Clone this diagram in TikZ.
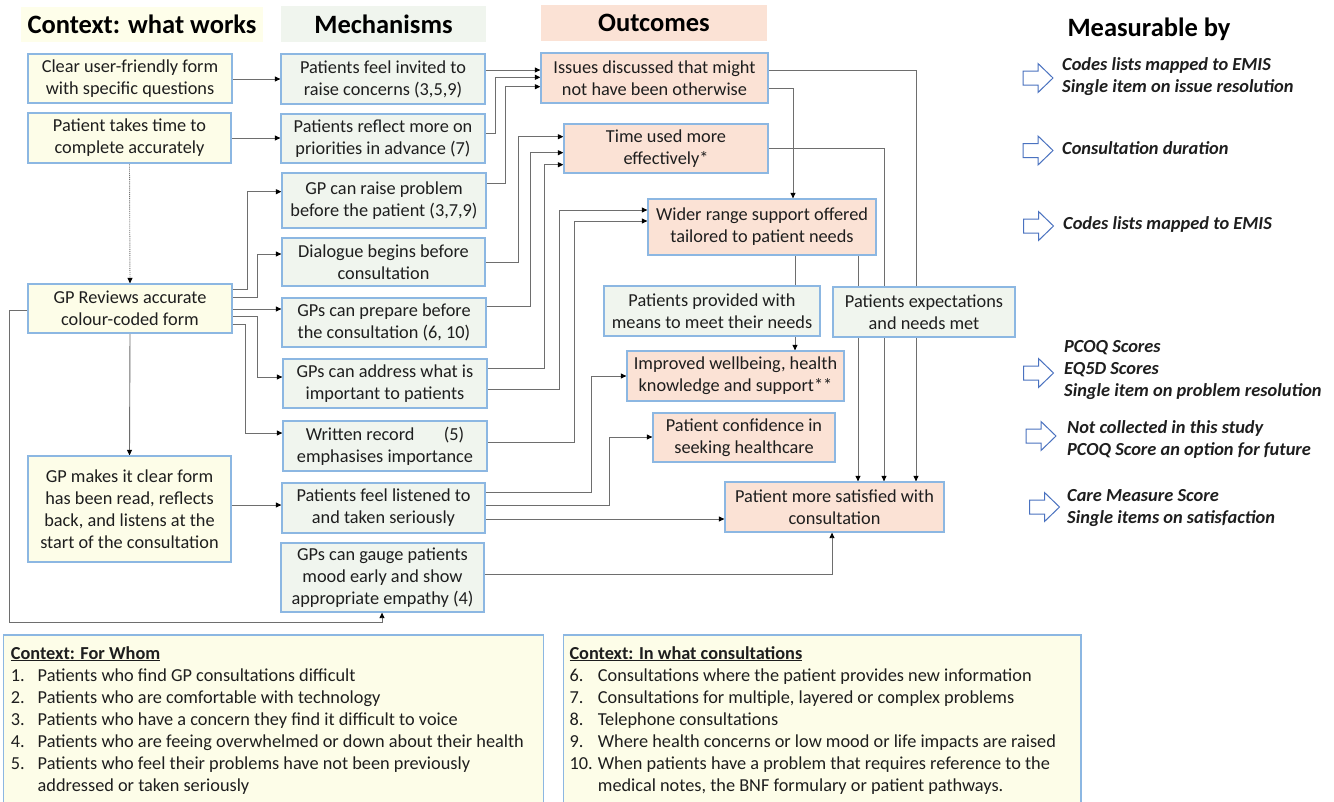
\documentclass[tikz,border=0pt]{standalone}
\usepackage{fontspec}
\setmainfont{Carlito}
\usetikzlibrary{arrows.meta}
\pgfdeclarelayer{back}
\pgfdeclarelayer{bg}
\pgfsetlayers{back,bg,main}
\definecolor{yel}{HTML}{FDFDE8}
\definecolor{yelh}{HTML}{FEFEEA}
\definecolor{grn}{HTML}{F0F5EE}
\definecolor{pch}{HTML}{FBE2D5}
\definecolor{bdr}{HTML}{8CB7E2}
\definecolor{ln}{HTML}{6E6E6E}
\definecolor{blk}{HTML}{4A72C0}
\definecolor{txt}{HTML}{1E1E1E}
\newcommand\mybox[7]{\node[box,fill=#2,minimum width={#5-#3},minimum height={#6-#4}] (#1) at ({(#3+#5)/2},{(#4+#6)/2}) {#7};}
\newcommand\hdr[7]{\node[hdrbox,fill=#2,minimum width={#5-#3},minimum height={#6-#4}] (#1) at ({(#3+#5)/2},{(#4+#6)/2}) {#7};}
\newcommand\blockarrow[2]{\draw[blk,line width=1pt,fill=white,line join=miter] (#1,#2-7) -- (#1+15,#2-7) -- (#1+15,#2-14.5) -- (#1+30,#2) -- (#1+15,#2+14.5) -- (#1+15,#2+7) -- (#1,#2+7) -- cycle;}
\begin{document}
\begin{tikzpicture}[x=1pt,y=-1pt,
  box/.style={draw=bdr,line width=1.3pt,align=center,inner sep=1pt,text=txt,font=\fontsize{18.3}{22}\selectfont},
  hdrbox/.style={draw=none,inner sep=0pt,text=black,font=\fontsize{26.5}{30}\selectfont\bfseries},
  conn/.style={draw=ln,line width=0.9pt,-{Triangle[length=5.5pt,width=5pt,color=black]}},
  meas/.style={anchor=west,align=left,inner sep=0pt,text=txt,font=\fontsize{18.4}{22}\selectfont\bfseries\itshape},
  lst/.style={anchor=base west,inner sep=0pt,text=txt,font=\fontsize{18.3}{22}\selectfont}]
\clip (0,0) rectangle (1334,801);
\begin{pgfonlayer}{back}
\fill[white] (0,0) rectangle (1334,801);
\end{pgfonlayer}
% headers
\hdr{h1}{yelh}{21}{7}{263}{42}{Context: what works}
\hdr{h2}{grn}{281}{6}{486}{42}{Mechanisms}
\hdr{h3}{pch}{541}{5}{767}{41}{Outcomes}
\node[hdrbox,anchor=base] (h4) at (1149,36) {Measurable by};
% context boxes
\mybox{C1}{yel}{28}{54}{232}{103}{Clear user-friendly form\\with specific questions}
\mybox{C2}{yel}{28}{113}{231}{163}{Patient takes time to\\complete accurately}
\mybox{C3}{yel}{28}{284}{232}{333}{GP Reviews accurate\\colour-coded form}
\mybox{C4}{yel}{28}{456}{231}{562}{GP makes it clear form\\has been read, reflects\\back, and listens at the\\start of the consultation}
% mechanisms
\mybox{M1}{grn}{281}{54}{485}{104}{Patients feel invited to\\raise concerns (3,5,9)}
\mybox{M2}{grn}{281}{114}{485}{163}{Patients reflect more on\\priorities in advance (7)}
\mybox{M3}{grn}{282}{173}{486}{228}{GP can raise problem\\before the patient (3,7,9)}
\mybox{M4}{grn}{282}{238}{485}{286}{Dialogue begins before\\consultation}
\mybox{M5}{grn}{282}{298}{486}{347}{GPs can prepare before\\the consultation (6, 10)}
\mybox{M6}{grn}{283}{359}{487}{408}{GPs can address what is\\important to patients}
\mybox{M7}{grn}{283}{421}{487}{471}{Written record\hspace{1.6em}(5)\\emphasises importance}
\mybox{M8}{grn}{282}{483}{485}{533}{Patients feel listened to\\and taken seriously}
\mybox{M9}{grn}{281}{543}{484}{612}{GPs can gauge patients\\mood early and show\\appropriate empathy (4)}
% outcomes
\mybox{O1}{pch}{541}{53}{768}{103}{Issues discussed that might\\not have been otherwise}
\mybox{O2}{pch}{564}{124}{768}{173}{Time used more\\effectively*}
\mybox{O3}{pch}{648}{199}{876}{255}{Wider range support offered\\tailored to patient needs}
\mybox{G1}{grn}{604}{286}{820}{336}{Patients provided with\\means to meet their needs}
\mybox{G2}{grn}{833}{287}{1015}{337}{Patients expectations\\and needs met}
\mybox{O4}{pch}{627}{351}{844}{401}{Improved wellbeing, health\\knowledge and support**}
\mybox{O5}{pch}{653}{413}{835}{462}{Patient confidence in\\seeking healthcare}
\mybox{O6}{pch}{725}{482}{944}{532}{Patient more satisfied with\\consultation}
% connectors
\begin{pgfonlayer}{bg}
\draw[conn] (C1.east |- 0,79) -- (M1.west |- 0,79);
\draw[conn] (C2.east |- 0,138) -- (M2.west |- 0,138);
\draw[conn,densely dotted] (C2.south) -- (C3.north);
\draw[conn] (C3.south) -- (C4.north);
\draw[conn] (C3.east |- 0,289) -- (247,289) |- (M3.west |- 0,191.7);
\draw[conn] (C3.east |- 0,297) -- (257.6,297) |- (M4.west |- 0,254);
\draw[conn] (C3.east |- 0,309) -- (M5.west |- 0,309);
\draw[conn] (C3.east |- 0,316) -- (257.6,316) |- (M6.west |- 0,377);
\draw[conn] (C3.east |- 0,324) -- (245.7,324) |- (M7.west |- 0,433);
\draw[conn] (C3.west |- 0,310) -- (9.3,310) |- (382,622) -- (M9.south -| 382,0);
\draw[conn] (C4.east |- 0,505) -- (M8.west |- 0,505);
\draw[conn] (M1.east |- 0,70) -- (O1.west |- 0,70);
\draw[conn] (M2.east |- 0,133) -- (495,133) |- (O1.west |- 0,77.3);
\draw[conn] (M3.east |- 0,183) -- (505,183) |- (O1.west |- 0,86.7);
\draw[conn] (M4.east |- 0,262) -- (518,262) |- (O2.west |- 0,136.7);
\draw[conn] (M5.east |- 0,306) -- (530.7,306) |- (O2.west |- 0,152.7);
\draw[conn] (M6.east |- 0,368) -- (544.3,368) |- (O2.west |- 0,164.7);
\draw[conn] (M6.east |- 0,389) -- (559.3,389) |- (O3.west |- 0,210);
\draw[conn] (M7.east |- 0,442) -- (574,442) |- (O3.west |- 0,221);
\draw[conn] (M8.east |- 0,492) -- (591,492) |- (O4.west |- 0,376);
\draw[conn] (M8.east |- 0,505) -- (609,505) |- (O5.west |- 0,437);
\draw[conn] (M8.east |- 0,519) -- (O6.west |- 0,519);
\draw[conn] (M9.east |- 0,574) -- (832,574) -- (O6.south -| 832,0);
\draw[conn] (O1.east |- 0,88.3) -- (793,88.3) -- (O3.north -| 793,0);
\draw[conn] (O1.east |- 0,70) -- (916,70) -- (O6.north -| 916,0);
\draw[conn] (O2.east |- 0,148.3) -- (884,148.3) -- (O6.north -| 884,0);
\draw[conn] (O3.south -| 858,0) -- (O6.north -| 858,0);
\draw[conn] (O3.south -| 795,0) -- (O4.north -| 795,0);
\end{pgfonlayer}
% measurable by
\blockarrow{1023}{78}
\blockarrow{1023}{150.5}
\blockarrow{1023.5}{226}
\blockarrow{1023.5}{373}
\blockarrow{1026}{436}
\blockarrow{1029.5}{507}
\node[meas] (ms1) at (1062,76.7) {Codes lists mapped to EMIS\\Single item on issue resolution};
\node[meas] (ms2) at (1062,148.3) {Consultation duration};
\node[meas] (ms3) at (1063,224.3) {Codes lists mapped to EMIS};
\node[meas] (ms4) at (1064,370) {PCOQ Scores\\EQ5D Scores\\Single item on problem resolution};
\node[meas] (ms5) at (1067,439.5) {Not collected in this study\\PCOQ Score an option for future};
\node[meas] (ms6) at (1067,508) {Care Measure Score\\Single items on satisfaction};
% bottom boxes
\draw[bdr,line width=1.3pt,fill=yel] (3.6,635) rectangle (543.6,815);
\draw[bdr,line width=1.3pt,fill=yel] (563.3,635) rectangle (1081,815);
\node[lst,font=\fontsize{18.3}{22}\selectfont\bfseries] (fw0) at (10.7,659) {\underline{Context: For Whom}};
\foreach \n/\t [count=\i] in {1./Patients who find GP consultations difficult,
  2./Patients who are comfortable with technology,
  3./Patients who have a concern they find it difficult to voice,
  4./Patients who are feeing overwhelmed or down about their health,
  5./Patients who feel their problems have not been previously,
  /addressed or taken seriously}
  {\node[lst] (fw\i) at (10.7,{659+22*\i}) {\makebox[26.8pt][l]{\n}\t};}
\node[lst,font=\fontsize{18.3}{22}\selectfont\bfseries] (wc0) at (569.3,659) {\underline{Context: In what consultations}};
\foreach \n/\t [count=\i] in {6./Consultations where the patient provides new information,
  7./{Consultations for multiple, layered or complex problems},
  8./Telephone consultations,
  9./Where health concerns or low mood or life impacts are raised,
  10./When patients have a problem that requires reference to the,
  /{medical notes, the BNF formulary or patient pathways.}}
  {\node[lst] (wc\i) at (569.3,{659+22*\i}) {\makebox[28.4pt][l]{\n}\t};}
\end{tikzpicture}
\end{document}
